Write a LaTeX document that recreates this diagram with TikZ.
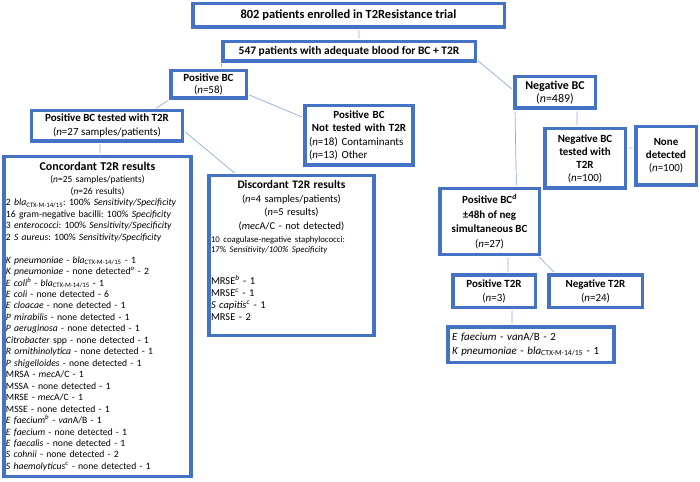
\documentclass[tikz,border=0pt]{standalone}
\usepackage{fontspec}
\setmainfont{Carlito}
\usepackage{tikz}
\usetikzlibrary{positioning, calc}
\frenchspacing
\definecolor{boxblue}{RGB}{68,114,196}
\definecolor{linkblue}{RGB}{143,170,220}
\newcommand{\nn}{\textit{n}}
\newcommand{\blactx}{\textit{bla}\textsubscript{CTX-M-14/15}}
\newcommand{\supit}[1]{\textsuperscript{\textit{#1}}}
\tikzset{
  box/.style={rectangle, draw=boxblue, fill=white, line width=3.5bp,
    align=center, inner sep=2bp, font=\fontsize{11}{13}\selectfont},
  listbox/.style={box, align=left},
  link/.style={draw=linkblue, line width=0.7bp,
    shorten <=1.5bp, shorten >=1.5bp}
}

\begin{document}
\begin{tikzpicture}[x=1bp, y=-1bp]
  \useasboundingbox (0,0) rectangle (700,482);

  % top of the trial
  \node[box, minimum width=311.5bp, minimum height=23.5bp, font=\fontsize{12.5}{14}\selectfont\bfseries] (enrol) at (348.5,15.5) {802 patients enrolled in T2Resistance trial};
  \node[box, minimum width=252.5bp, minimum height=19.5bp, font=\fontsize{11.5}{13}\selectfont\bfseries] (adequate) at (349,51.5) {547 patients with adequate blood for BC + T2R};

  % positive blood cultures
  \node[box, minimum width=75.5bp, minimum height=27.5bp, font=\fontsize{11}{12}\selectfont] (posbc) at (208.5,84.5) {\textbf{Positive BC}\\(\nn=58)};
  \node[box, minimum width=150.5bp, minimum height=30.5bp, font=\fontsize{11}{14}\selectfont] (postested) at (107,126) {\textbf{Positive BC tested with T2R}\\(\nn=27 samples/patients)};
  \node[listbox, text width=100bp, inner xsep=4bp, minimum height=59.5bp, font=\fontsize{11}{13.3}\selectfont] (notested) at (359,135.5) {%
    {\centering\bfseries Positive BC\\Not tested with T2R\par}
    (\nn=18) Contaminants\\
    (\nn=13) Other};

  \node[listbox, text width=183bp, minimum height=319.5bp, font=\fontsize{9.7}{11.5}\selectfont] (concord) at (97.5,316.5) {%
    {\centering{\fontsize{12}{13}\selectfont\bfseries Concordant T2R results}\par
    {\fontsize{9.5}{12}\selectfont(\nn=25 samples/patients)\par(\nn=26 results)\par}}
    2 \blactx: 100\% \textit{Sensitivity/Specificity}\\
    16 gram-negative bacilli: 100\% \textit{Specificity}\\
    3 \textit{enterococci}: 100\% \textit{Sensitivity/Specificity}\\
    2 \textit{S aureus}: 100\% \textit{Sensitivity/Specificity}\\[11.5bp]
    \textit{K pneumoniae} - \blactx{} - 1\\
    \textit{K pneumoniae} - none detected\supit{a} - 2\\
    \textit{E coli}\supit{b} - \blactx{} - 1\\
    \textit{E coli} - none detected - 6\\
    \textit{E cloacae} - none detected - 1\\
    \textit{P mirabilis} - none detected - 1\\
    \textit{P aeruginosa} - none detected - 1\\
    \textit{Citrobacter} spp - none detected - 1\\
    \textit{R ornithinolytica} - none detected - 1\\
    \textit{P shigelloides} - none detected - 1\\
    MRSA - \textit{mec}A/C - 1\\
    MSSA - none detected - 1\\
    MRSE - \textit{mec}A/C - 1\\
    MSSE - none detected - 1\\
    \textit{E faecium}\supit{b} - \textit{van}A/B - 1\\
    \textit{E faecium} - none detected - 1\\
    \textit{E faecalis} - none detected - 1\\
    \textit{S cohnii} - none detected - 2\\
    \textit{S haemolyticus}\supit{c} - none detected - 1};

  \node[listbox, text width=161bp, minimum height=159.5bp, font=\fontsize{10.5}{12}\selectfont] (discord) at (291.5,255.5) {%
    {\centering{\fontsize{11.5}{13}\selectfont\bfseries Discordant T2R results}\par
    {\fontsize{10.5}{13.5}\selectfont(\nn=4 samples/patients)\par(\nn=5 results)\par(\textit{mec}A/C - not detected)\par}}
    \vspace{4bp}
    {\fontsize{8.8}{9.5}\selectfont 10 coagulase-negative staphylococci:\\
    17\% \textit{Sensitivity/100\% Specificity}\par}
    \vspace{20bp}
    MRSE\supit{b} - 1\\
    MRSE\supit{c} - 1\\
    \textit{S capitis}\supit{c} - 1\\
    MRSE - 2\rule[-10bp]{0pt}{1bp}};

  % negative blood cultures
  \node[box, minimum width=80.5bp, minimum height=31.5bp, font=\fontsize{12}{13}\selectfont] (negbc) at (555,92.5) {\textbf{Negative BC}\\(\nn=489)};
  \node[box, minimum width=80.5bp, minimum height=59.5bp] (negtested) at (585,158.5) {\textbf{Negative BC}\\\textbf{tested with}\\\textbf{T2R}\\(\nn=100)};
  \node[box, minimum width=60.5bp, minimum height=58.5bp] (nonedet) at (666,156) {\textbf{None}\\\textbf{detected}\\(\nn=100)};
  \node[box, minimum width=99.5bp, minimum height=65.5bp, font=\fontsize{11}{14.5}\selectfont] (posbcd) at (489.5,221.5) {\textbf{Positive BC\supit{d}}\\\textbf{±48h of neg}\\\textbf{simultaneous BC}\\(\nn=27)};
  \node[box, minimum width=82.5bp, minimum height=32.5bp, font=\fontsize{11}{14}\selectfont] (post2r) at (494,291) {\textbf{Positive T2R}\\(\nn=3)};
  \node[box, minimum width=93.5bp, minimum height=32.5bp, font=\fontsize{11}{14}\selectfont] (negt2r) at (595.5,291) {\textbf{Negative T2R}\\(\nn=24)};
  \node[listbox, text width=158bp, inner xsep=4bp, minimum height=35.5bp, font=\fontsize{11}{14}\selectfont] (posresults) at (531,344.5) {%
    \textit{E faecium} - \textit{van}A/B - 2\\
    \textit{K pneumoniae} - \blactx{} - 1};

  % Paths
  \draw[link] ([xshift=10.5]enrol.south) -- ([xshift=10]adequate.north);
  \draw[link] (adequate.south west) -- (adequate.south west |- posbc.north);
  \draw[link] ([yshift=-8.5]adequate.east) -- ([yshift=2.5]negbc.west);
  \draw[link] (posbc.south west) -- ([xshift=48]postested.north);
  \draw[link] ([yshift=-10]posbc.east) -- ([yshift=18]notested.west);
  \draw[link] ([xshift=-7]postested.south) -- ([xshift=2.5]concord.north);
  \draw[link] ([yshift=-5]postested.east) -- ([xshift=-56]discord.north);
  \draw[link] ([xshift=2]negbc.south west) -- ([xshift=27]posbcd.north);
  \draw[link] ([xshift=22]negbc.south) -- ([xshift=-8]negtested.north);
  \draw[link] ([yshift=10.5]negtested.east) -- ([yshift=8]nonedet.west);
  \draw[link] ([xshift=18.5]posbcd.south) -- ([xshift=14]post2r.north);
  \draw[link] ([xshift=-3]posbcd.south east) -- ([xshift=8]negt2r.north west);
  \draw[link] ([xshift=18]post2r.south) -- ([xshift=-19]posresults.north);
\end{tikzpicture}
\end{document}
